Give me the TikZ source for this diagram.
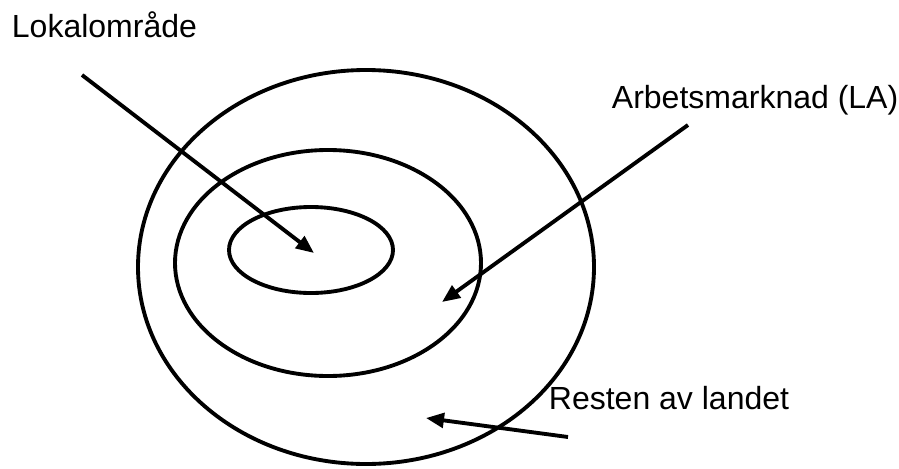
\documentclass[tikz,border=0pt]{standalone}
\usepackage{fontspec}
\setmainfont{Liberation Sans}
\usetikzlibrary{arrows.meta}

\begin{document}
\begin{tikzpicture}[x=0.75pt,y=-0.75pt,>={Triangle[length=13.5pt,width=11pt]},line width=2.9pt,
  every node/.style={font=\fontsize{24}{28}\selectfont,inner sep=0pt}]
\useasboundingbox (0,0) rectangle (899,468);
% zones
\draw (366,267) ellipse [x radius=228,y radius=197];
\draw (328,263) ellipse [x radius=153,y radius=113];
\draw (311,250) ellipse [x radius=82,y radius=43];
% labels
\node[anchor=base west] (lokal) at (10,37){Lokalområde};
\node[anchor=base west] (arbets) at (610,108){Arbetsmarknad (LA)};
\node[anchor=base west] (resten) at (547,409){Resten av landet};
% arrows
\coordinate (lokalfrom) at (82,75);
\coordinate (lokalto) at (314,253);
\coordinate (arbetsfrom) at (688,125);
\coordinate (arbetsto) at (442,302);
\coordinate (restenfrom) at (568,437);
\coordinate (restento) at (426,418);
\draw[->] (lokalfrom)--(lokalto);
\draw[->] (arbetsfrom)--(arbetsto);
\draw[->] (restenfrom)--(restento);
\end{tikzpicture}
\end{document}
